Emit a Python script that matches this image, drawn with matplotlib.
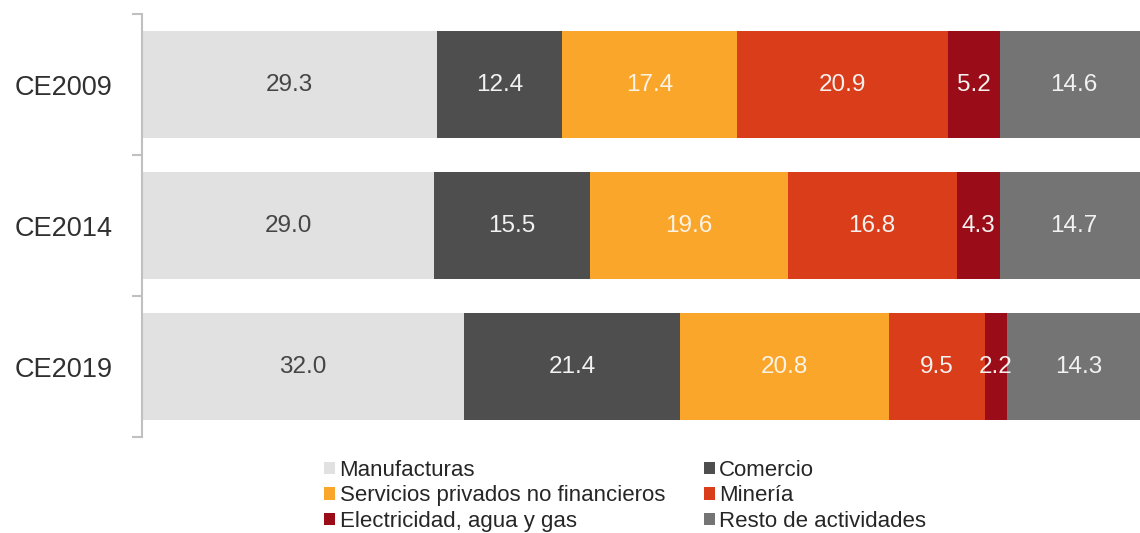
import numpy as np
import matplotlib.pyplot as plt
from matplotlib.patches import Patch

plt.rcParams['font.family'] = ['Liberation Sans', 'DejaVu Sans']

# Participación por sector (%), censos económicos
censos = ["CE2009", "CE2014", "CE2019"]
sectores = ["Manufacturas", "Comercio", "Servicios privados no financieros",
            "Minería", "Electricidad, agua y gas", "Resto de actividades"]
manufacturas = [29.3, 29.0, 32.0]
comercio = [12.4, 15.5, 21.4]
servicios = [17.4, 19.6, 20.8]
mineria = [20.9, 16.8, 9.5]
electricidad = [5.2, 4.3, 2.2]
resto = [14.6, 14.7, 14.3]

colores = ["#e1e1e1", "#4e4e4e", "#f9a62a", "#d93d19", "#990c18", "#747474"]
col_texto = ["#454545", "#f2f2f2", "#fbf3e6", "#f6f0ee", "#f6f0ee", "#f2f2f2"]

series = [manufacturas, comercio, servicios, mineria, electricidad, resto]

fig = plt.figure(figsize=(11.4, 5.33), dpi=100)
ax = fig.add_axes([142 / 1140, 1 - 437 / 533, 1 - 142 / 1140, 423 / 533])

y = np.arange(len(censos))
left = np.zeros(len(censos))
handles = []
for vals, c, tc, nombre in zip(series, colores, col_texto, sectores):
    vals = np.array(vals)
    ax.barh(y, vals, left=left, height=0.76, color=c, edgecolor="none")
    for yi, l, v in zip(y, left, vals):
        ax.text(l + v / 2, yi, f"{v:.1f}", ha="center", va="center",
                fontsize=17.5, color=tc)
    left += vals
    handles.append(Patch(facecolor=c, edgecolor="none", label=nombre))

ax.set_xlim(0, 99.1)
ax.set_ylim(2.5, -0.5)

for s in ["top", "right", "bottom"]:
    ax.spines[s].set_visible(False)
ax.spines["left"].set_color("#c0c0c0")
ax.spines["left"].set_linewidth(1.5)
ax.set_xticks([])

ax.set_yticks([-0.5, 0.5, 1.5, 2.5])
ax.set_yticklabels([])
ax.tick_params(axis="y", which="major", length=7, width=1.5, color="#c0c0c0")
ax.set_yticks(y, minor=True)
ax.set_yticklabels(censos, minor=True, fontsize=19.5, color="#303030")
ax.tick_params(axis="y", which="minor", length=0, pad=21)

orden = [0, 2, 4, 1, 3, 5]
fig.legend([handles[i] for i in orden], [sectores[i] for i in orden],
           loc="upper left", bbox_to_anchor=(324 / 1140, 1 - 460 / 533),
           ncol=2, frameon=False, fontsize=16, handlelength=0.5,
           handleheight=0.5, handletextpad=0.2, columnspacing=1.75,
           labelspacing=0.2, borderpad=0, borderaxespad=0,
           labelcolor="#262626")

fig.savefig("out.png", dpi=100)
